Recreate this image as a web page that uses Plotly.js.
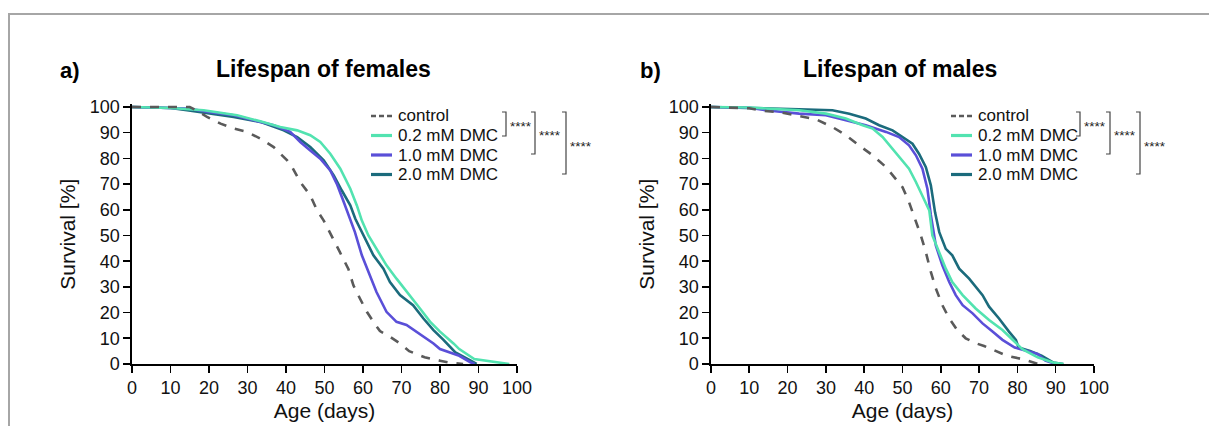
<!DOCTYPE html>
<html>
<head>
<meta charset="utf-8">
<script src="https://cdn.plot.ly/plotly-3.0.1.min.js"></script>
<style>html,body{margin:0;padding:0;background:#fff;}#chart{width:1209px;height:426px;}</style>
</head>
<body>
<div id="chart"></div>
<script>
// ---------- data ----------
const seriesNames = ["control", "0.2 mM DMC", "1.0 mM DMC", "2.0 mM DMC"];
const xTicks = [0, 10, 20, 30, 40, 50, 60, 70, 80, 90, 100];
const yTicks = [0, 10, 20, 30, 40, 50, 60, 70, 80, 90, 100];

// Females
const fControlAge = [0, 15, 17, 19.5, 23, 26.4, 29.9, 33.3, 36.8, 39.4, 40.3, 41.6, 43.7, 46.3, 48.1, 49.8, 51.4, 54, 56.2, 57.5, 59.2, 61, 62.7, 64.4, 67, 69.6, 72, 76, 80, 83, 86];
const fControlSurv = [100, 100, 98.5, 96.1, 93.5, 91.6, 90.3, 87.7, 84.4, 80.5, 79.2, 76.6, 70.8, 65.6, 59.7, 55.8, 51.3, 43.5, 37, 30.6, 25.5, 20.3, 16.4, 12.8, 10.6, 8, 5, 2.6, 1.3, 0.4, 0];
const f02Age = [0, 10, 18.6, 27.3, 33.3, 38.5, 42.9, 46.3, 48.9, 51.5, 54.1, 56.7, 58.4, 59.7, 61.4, 63.5, 66.1, 68.7, 72.2, 74.8, 77.4, 80, 83.5, 85, 88.9, 91.9, 94.9, 98];
const f02Surv = [100, 99.6, 98.7, 96.8, 94.4, 92.2, 90.9, 89, 86.4, 81.8, 76, 68.2, 61.7, 55.8, 50, 44.8, 38.4, 33.2, 26.8, 21.6, 16.5, 12.6, 8, 5.8, 1.9, 1.3, 0.6, 0];
const f10Age = [0, 14.3, 20.3, 26.4, 31.6, 36.8, 41.1, 43.7, 46.3, 48.9, 51.5, 53.2, 55, 56.7, 57.9, 59.7, 61.4, 63.5, 66.1, 68.7, 71.3, 73.9, 76.5, 78.3, 80, 85, 88, 89];
const f10Surv = [100, 99.4, 98, 96.8, 94.8, 92.9, 90.3, 86.4, 83.1, 79.9, 75.3, 70.1, 63, 56.5, 51.3, 42.3, 35.8, 28, 20.3, 16.4, 15.2, 12.6, 10, 8, 5.8, 3.2, 0.6, 0];
const f20Age = [0, 10, 14.3, 20.3, 26.4, 33.3, 39.4, 42.9, 46.3, 49.8, 52.4, 54.5, 56.7, 58, 60.1, 62.7, 65.3, 67, 69.6, 73, 75.7, 78.3, 80.9, 84, 88, 89.5];
const f20Surv = [100, 99.6, 98.7, 97.4, 96.1, 94.2, 90.9, 88.3, 84.4, 79.2, 73.4, 67.5, 61.7, 56.5, 50, 42.3, 37.1, 31.9, 26.8, 22.9, 17.7, 13.2, 9.4, 4.5, 1.3, 0];

// Males
const mControlAge = [0, 10, 13.5, 17.8, 23, 27.4, 31.7, 35.2, 38.7, 42.2, 45.7, 48.3, 50, 51.7, 53.3, 54.8, 56.1, 57.4, 58.7, 60.4, 62.2, 64.3, 66.5, 69.1, 71.3, 77.3, 81.3, 84.3, 85.5];
const mControlSurv = [100, 99.5, 98.5, 98, 96.5, 95.2, 92.2, 89, 85, 81.2, 76.6, 72.1, 68.8, 63, 56.5, 50, 43.5, 35.8, 29.4, 22.9, 17.7, 13.2, 10, 8.1, 7, 3.2, 1.9, 0.6, 0];
const m02Age = [0, 10, 14.3, 23, 30, 35.2, 39.6, 42.2, 44.8, 47, 49.1, 51.7, 53.5, 55.2, 57, 57.8, 59.6, 61.3, 63, 65.7, 69.1, 72.6, 76.1, 78.7, 81.3, 85.3, 89.3, 92];
const m02Surv = [100, 99.8, 99.4, 98.7, 97.4, 95.5, 92.9, 91.6, 88.3, 84.4, 80.5, 76, 70.8, 65.6, 59.7, 50, 43.5, 37.1, 31.9, 26.8, 21.6, 17.1, 13.2, 9.4, 5.8, 2.6, 0.6, 0];
const m10Age = [0, 10, 14.3, 23, 30, 35.2, 40.4, 45.7, 49.1, 51.7, 53.5, 55.2, 56.5, 57.4, 58.7, 60.4, 62.2, 63.9, 65.7, 68.3, 70.9, 73.5, 76.1, 79.3, 82.3, 85.3, 87.3, 90];
const m10Surv = [100, 99.7, 98.7, 97.4, 96.8, 94.8, 92.9, 90.3, 88.3, 85.1, 81.2, 76, 68.2, 58, 46.1, 38.4, 31.9, 26.8, 22.9, 19.7, 15.8, 12.6, 9.4, 6.4, 5.1, 3.9, 1.3, 0];
const m20Age = [0, 14.3, 23, 31.7, 36.1, 40.4, 43.9, 47.4, 50, 52.6, 54.3, 56.1, 57.4, 58.5, 59.6, 61.3, 63, 64.8, 67.4, 69.1, 70.9, 72.6, 75.2, 77.8, 79.6, 80.3, 83.3, 86.3, 89.3, 92];
const m20Surv = [100, 99.6, 99.1, 98.7, 97.4, 95.5, 92.9, 90.9, 88.3, 85.7, 81.8, 76.6, 69.5, 59, 51.3, 44.8, 42.3, 37.1, 33.2, 30, 26.8, 22.3, 17.7, 12.6, 9.4, 6.4, 5.1, 3.2, 0.6, 0];

const significance = ["****", "****", "****"];
const panelLetters = ["a)", "b)"];
const panelTitles = ["Lifespan of females", "Lifespan of males"];

// ---------- styling ----------
const W = 1209, H = 426;
const FONT = "Liberation Sans, Arial, sans-serif";
const colors = ["#5a5a5a", "#52e3b0", "#5a4fd8", "#1b6b7c"];
const dashes = ["dash", "solid", "solid", "solid"];
const px = v => v / W;
const py = v => 1 - v / H;

const femaleSets = [[fControlAge, fControlSurv], [f02Age, f02Surv], [f10Age, f10Surv], [f20Age, f20Surv]];
const maleSets = [[mControlAge, mControlSurv], [m02Age, m02Surv], [m10Age, m10Surv], [m20Age, m20Surv]];

const traces = [];
[femaleSets, maleSets].forEach((sets, p) => {
  // draw higher doses first so control ends up on top
  [3, 2, 1, 0].forEach(i => {
    const s = sets[i];
    traces.push({
      x: s[0], y: s[1], type: "scatter", mode: "lines",
      name: seriesNames[i], showlegend: false,
      xaxis: p === 0 ? "x" : "x2", yaxis: p === 0 ? "y" : "y2",
      line: {color: colors[i], width: 2.6, dash: dashes[i], shape: "linear"},
      hoverinfo: "x+y+name"
    });
  });
});

// plot-area pixel geometry
const yTop = 104.4, yBot = 364; // 101 at top, 0 at bottom
const xL = [132, 711], xR = [517, 1094];

function xaxis(i) {
  return {
    domain: [px(xL[i]), px(xR[i])], range: [0, 100], anchor: i === 0 ? "y" : "y2",
    tickvals: xTicks, ticktext: xTicks.map(String),
    showline: true, linecolor: "#000", linewidth: 1.6, ticks: "outside", ticklen: 7, tickwidth: 1.6, tickcolor: "#000",
    showgrid: false, zeroline: false, fixedrange: true,
    tickfont: {family: FONT, size: 18, color: "#111"},
    title: {text: "Age (days)", font: {family: FONT, size: 21, color: "#111"}, standoff: 6}
  };
}
function yaxis(i) {
  return {
    domain: [py(yBot), py(yTop)], range: [0, 101], anchor: i === 0 ? "x" : "x2",
    tickvals: yTicks, ticktext: yTicks.map(String),
    showline: true, linecolor: "#000", linewidth: 1.6, ticks: "outside", ticklen: 7, tickwidth: 1.6, tickcolor: "#000",
    showgrid: false, zeroline: false, fixedrange: true,
    tickfont: {family: FONT, size: 18, color: "#111"},
    title: {text: "Survival [%]", font: {family: FONT, size: 21, color: "#111"}, standoff: 8}
  };
}

const annotations = [];
const shapes = [];
// frame
shapes.push({type: "rect", xref: "paper", yref: "paper", x0: px(9), x1: px(1240), y0: py(14), y1: py(470),
  line: {color: "#a6a6a6", width: 2}, fillcolor: "rgba(0,0,0,0)", layer: "below"});

const letterX = [58, 638], titleX = [324, 900];
for (let p = 0; p < 2; p++) {
  annotations.push({text: "<b>" + panelLetters[p] + "</b>", xref: "paper", yref: "paper", x: px(letterX[p]), y: py(70),
    xanchor: "left", yanchor: "middle", showarrow: false, font: {family: FONT, size: 22, color: "#000"}});
  annotations.push({text: "<b>" + panelTitles[p] + "</b>", xref: "paper", yref: "paper", x: px(titleX[p]), y: py(69),
    xanchor: "center", yanchor: "middle", showarrow: false, font: {family: FONT, size: 23, color: "#000"}});
}

// legends (one per panel)
const legendLineX = [371, 951];
const legendRowY = [116, 135.5, 155, 174.5];
for (let p = 0; p < 2; p++) {
  seriesNames.forEach((name, i) => {
    const lx = legendLineX[p], ly = legendRowY[i];
    shapes.push({type: "line", xref: "paper", yref: "paper", x0: px(lx), x1: px(lx + 21), y0: py(ly), y1: py(ly),
      line: {color: colors[i], width: i === 0 ? 2.6 : 3.2, dash: i === 0 ? "5px,3px" : "solid"}});
    annotations.push({text: name, xref: "paper", yref: "paper", x: px(lx + 25), y: py(ly),
      xanchor: "left", yanchor: "middle", showarrow: false, font: {family: FONT, size: 17, color: "#111"}});
  });
}

// significance brackets
const bracketX = [[506, 535, 566], [1080, 1110, 1140]];
const bracketBottom = [136, 154, 174];
const bracketTop = 112;
const starY = [127, 136, 146];
for (let p = 0; p < 2; p++) {
  for (let k = 0; k < 3; k++) {
    const bx = bracketX[p][k];
    shapes.push({type: "path", xref: "paper", yref: "paper",
      path: `M ${px(bx - 4)} ${py(bracketTop)} L ${px(bx)} ${py(bracketTop)} L ${px(bx)} ${py(bracketBottom[k])} L ${px(bx - 4)} ${py(bracketBottom[k])}`,
      line: {color: "#444", width: 1.2}});
    annotations.push({text: significance[k], xref: "paper", yref: "paper", x: px(bx + 1.5), y: py(starY[k]),
      xanchor: "left", yanchor: "middle", showarrow: false, font: {family: FONT, size: 13.5, color: "#222"}});
  }
}

const layout = {
  width: W, height: H, margin: {l: 0, r: 0, t: 0, b: 0, autoexpand: false},
  paper_bgcolor: "#fff", plot_bgcolor: "#fff",
  font: {family: FONT},
  showlegend: false,
  xaxis: xaxis(0), yaxis: yaxis(0), xaxis2: xaxis(1), yaxis2: yaxis(1),
  annotations: annotations, shapes: shapes
};

Plotly.newPlot("chart", traces, layout, {staticPlot: true, displayModeBar: false});
</script>
</body>
</html>
